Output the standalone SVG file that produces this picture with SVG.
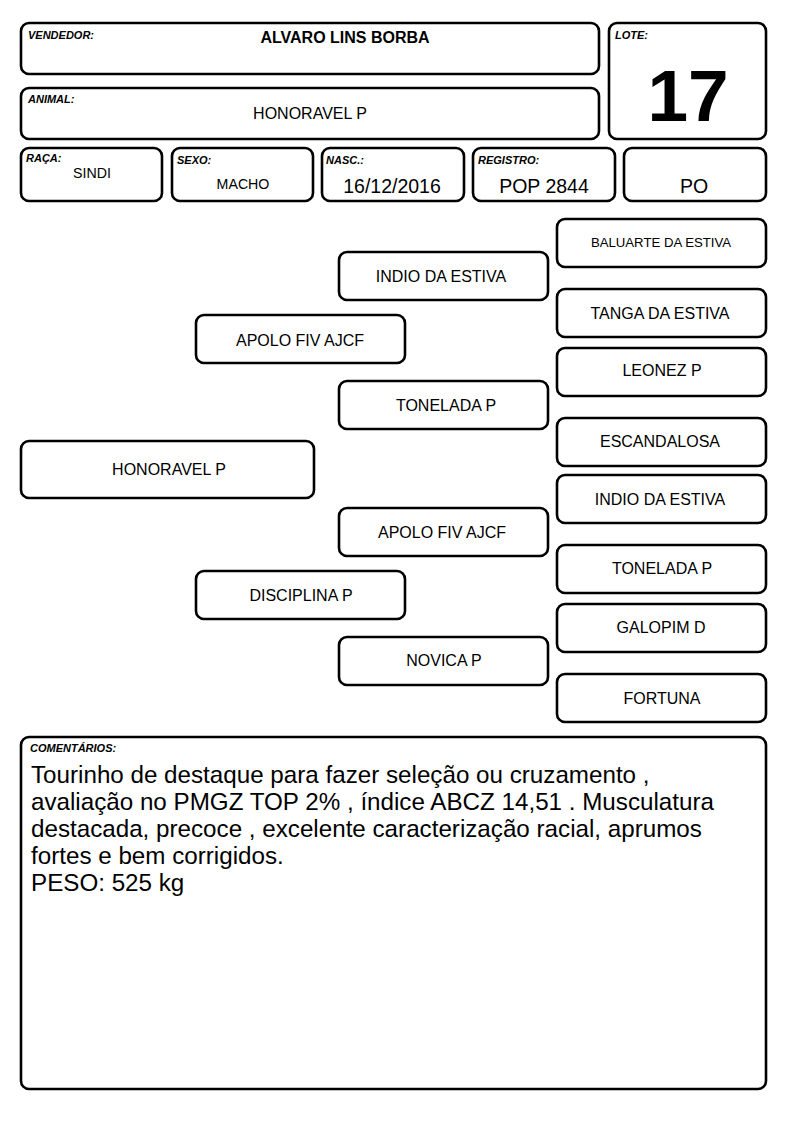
<svg xmlns="http://www.w3.org/2000/svg" width="794" height="1123" viewBox="0 0 794 1123">
<style>
.b{fill:#fff;stroke:#000;stroke-width:2.6}
.l{font-family:"Liberation Sans",Arial,sans-serif;font-size:11px;font-weight:bold;font-style:italic;fill:#000}
.t{font-family:"Liberation Sans",Arial,sans-serif;font-size:16px;fill:#000;text-anchor:middle}
.v{font-family:"Liberation Sans",Arial,sans-serif;font-size:19.5px;fill:#000;text-anchor:middle}
.c{font-family:"Liberation Sans",Arial,sans-serif;font-size:24.2px;fill:#000}
</style>
<rect width="794" height="1123" fill="#fff"/>
<g id="vendedor"><rect class="b" x="21" y="23" width="578" height="51" rx="8"/><text class="l" x="28" y="39">VENDEDOR:</text><text class="t" x="345" y="43" style="font-weight:bold">ALVARO LINS BORBA</text></g>
<g id="animal"><rect class="b" x="21" y="88" width="578" height="51" rx="8"/><text class="l" x="28" y="103">ANIMAL:</text><text class="t" x="310" y="119">HONORAVEL P</text></g>
<g id="lote"><rect class="b" x="609" y="23" width="157" height="116" rx="8"/><text class="l" x="615" y="39">LOTE:</text><text x="688" y="121" font-family="Liberation Sans,Arial,sans-serif" font-size="73" font-weight="bold" text-anchor="middle">17</text></g>
<g id="raca"><rect class="b" x="21" y="148" width="141" height="53" rx="8"/><text class="l" x="26" y="162">RAÇA:</text><text class="t" x="92" y="178" style="font-size:14.2px">SINDI</text></g>
<g id="sexo"><rect class="b" x="172" y="148" width="141" height="53" rx="8"/><text class="l" x="177" y="164">SEXO:</text><text class="t" x="243" y="189" style="font-size:14.2px">MACHO</text></g>
<g id="nasc"><rect class="b" x="322" y="148" width="142" height="53" rx="8"/><text class="l" x="326" y="164">NASC.:</text><text class="v" x="392" y="193">16/12/2016</text></g>
<g id="registro"><rect class="b" x="473" y="148" width="142" height="53" rx="8"/><text class="l" x="478" y="164">REGISTRO:</text><text class="v" x="544" y="193">POP 2844</text></g>
<g id="po"><rect class="b" x="624" y="148" width="142" height="53" rx="8"/><text class="v" x="694" y="193">PO</text></g>
<g id="connectors"></g>
<g id="p0"><rect class="b" x="21" y="441" width="293" height="57" rx="8"/><text class="t" x="169" y="475">HONORAVEL P</text></g>
<g id="p1a"><rect class="b" x="196" y="315" width="209" height="48" rx="8"/><text class="t" x="300" y="346">APOLO FIV AJCF</text></g>
<g id="p1b"><rect class="b" x="196" y="571" width="209" height="48" rx="8"/><text class="t" x="301" y="601">DISCIPLINA P</text></g>
<g id="p2a"><rect class="b" x="339" y="252" width="209" height="48" rx="8"/><text class="t" x="441" y="282">INDIO DA ESTIVA</text></g>
<g id="p2b"><rect class="b" x="339" y="381" width="209" height="48" rx="8"/><text class="t" x="446" y="411">TONELADA P</text></g>
<g id="p2c"><rect class="b" x="339" y="508" width="209" height="48" rx="8"/><text class="t" x="442" y="538">APOLO FIV AJCF</text></g>
<g id="p2d"><rect class="b" x="339" y="637" width="209" height="48" rx="8"/><text class="t" x="444" y="666">NOVICA P</text></g>
<g id="p3a"><rect class="b" x="557" y="219" width="209" height="48" rx="8"/><text class="t" x="661" y="247" style="font-size:13.2px">BALUARTE DA ESTIVA</text></g>
<g id="p3b"><rect class="b" x="557" y="289" width="209" height="48" rx="8"/><text class="t" x="660" y="319">TANGA DA ESTIVA</text></g>
<g id="p3c"><rect class="b" x="557" y="348" width="209" height="48" rx="8"/><text class="t" x="662" y="376">LEONEZ P</text></g>
<g id="p3d"><rect class="b" x="557" y="418" width="209" height="48" rx="8"/><text class="t" x="660" y="447">ESCANDALOSA</text></g>
<g id="p3e"><rect class="b" x="557" y="475" width="209" height="48" rx="8"/><text class="t" x="660" y="505">INDIO DA ESTIVA</text></g>
<g id="p3f"><rect class="b" x="557" y="545" width="209" height="48" rx="8"/><text class="t" x="662" y="574">TONELADA P</text></g>
<g id="p3g"><rect class="b" x="557" y="604" width="209" height="48" rx="8"/><text class="t" x="661" y="633">GALOPIM D</text></g>
<g id="p3h"><rect class="b" x="557" y="674" width="209" height="48" rx="8"/><text class="t" x="662" y="704">FORTUNA</text></g>
<g id="comentarios"><rect class="b" x="21" y="737" width="745" height="352" rx="8"/><text class="l" x="30" y="752">COMENTÁRIOS:</text>
<text class="c"><tspan x="31" y="783">Tourinho de destaque para fazer seleção ou cruzamento ,</tspan><tspan x="31" y="810">avaliação no PMGZ TOP 2% , índice ABCZ 14,51 . Musculatura</tspan><tspan x="31" y="837">destacada, precoce , excelente caracterização racial, aprumos</tspan><tspan x="31" y="864">fortes e bem corrigidos.</tspan><tspan x="31" y="891">PESO: 525 kg</tspan></text></g>
</svg>
